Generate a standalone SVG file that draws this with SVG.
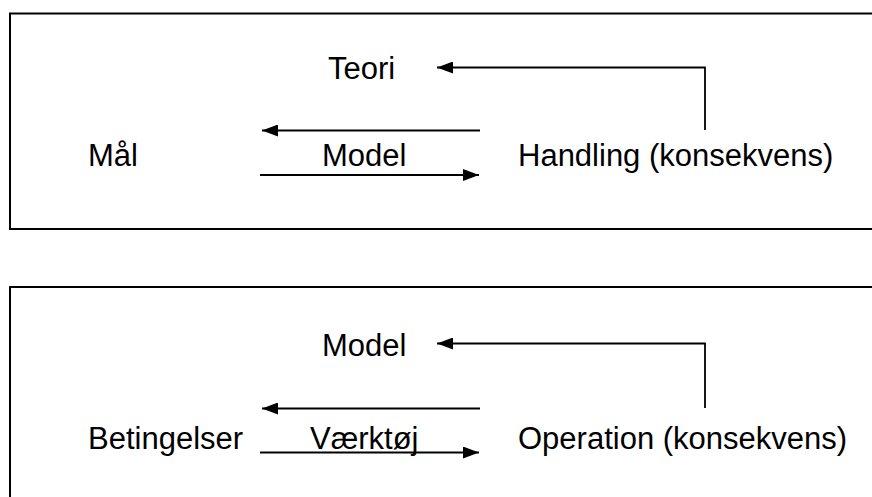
<svg xmlns="http://www.w3.org/2000/svg" width="872" height="497" viewBox="0 0 872 497">
<style>
text{font-family:"Liberation Sans",Arial,sans-serif;font-size:31px;fill:#000}
.box{fill:#fff;stroke:#000;stroke-width:2}
.c{fill:none;stroke:#000;stroke-width:1.8}
</style>
<defs>
<marker id="ah" markerUnits="userSpaceOnUse" markerWidth="16" markerHeight="12" refX="16" refY="6" orient="auto">
<path d="M0,0 L16,6 L0,12 Z" fill="#000"/>
</marker>
</defs>
<rect width="872" height="497" fill="#fff"/>
<rect class="box" x="10" y="13.5" width="880" height="215.5"/>
<rect class="box" x="10" y="287" width="880" height="230"/>
<g id="n1"><text x="328" y="79">Teori</text></g>
<g id="n2"><text x="88" y="166">Mål</text></g>
<g id="n3"><text x="322" y="166">Model</text></g>
<g id="n4"><text x="518" y="166">Handling (konsekvens)</text></g>
<g id="n5"><text x="322" y="356">Model</text></g>
<g id="n6"><text x="88" y="449">Betingelser</text></g>
<g id="n7"><text x="310" y="449">Værktøj</text></g>
<g id="n8"><text x="518" y="449">Operation (konsekvens)</text></g>
<g id="connectors">
<polyline class="c" points="705,130 705,67.5 437,67.5" marker-end="url(#ah)"/>
<line class="c" x1="480" y1="130.5" x2="262" y2="130.5" marker-end="url(#ah)"/>
<line class="c" x1="260" y1="175" x2="479" y2="175" marker-end="url(#ah)"/>
<polyline class="c" points="705,408 705,343.5 437,343.5" marker-end="url(#ah)"/>
<line class="c" x1="480" y1="408.5" x2="262" y2="408.5" marker-end="url(#ah)"/>
<line class="c" x1="260" y1="452.5" x2="479" y2="452.5" marker-end="url(#ah)"/>
</g>
</svg>
